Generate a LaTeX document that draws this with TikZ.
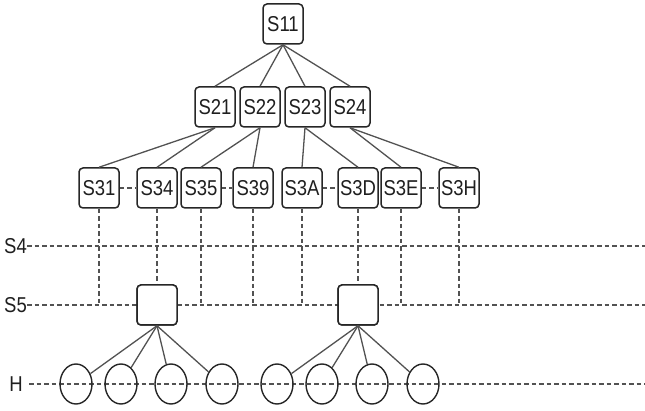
\documentclass[tikz,border=0pt]{standalone}
\usepackage{fontspec}
\usetikzlibrary{shapes.geometric}
\setmainfont{Liberation Sans}[FakeStretch=0.86]
\begin{document}
\begin{tikzpicture}[x=1pt,y=-1pt,
  txt/.style={font=\fontsize{21.5}{23}\selectfont, text=black!88},
  box/.style={txt, draw=black!85, line width=1.5pt, rounded corners=4pt, minimum width=40pt, minimum height=40pt, fill=white, inner sep=0pt},
  leaf/.style={draw=black!85, line width=1.4pt, ellipse, minimum width=32pt, minimum height=40pt, inner sep=0pt},
  edge/.style={draw=black!68, line width=1.3pt},
  dline/.style={draw=black!68, line width=1.2pt, dash pattern=on 4.5pt off 3pt},
  lab/.style={txt, inner sep=0pt, anchor=east}]
\useasboundingbox (0,0) rectangle (645,411);
% levels labels
\node[lab] (L4) at (27,246) {S4};
\node[lab] (L5) at (27,305) {S5};
\node[lab] (LH) at (23,384) {H};
\coordinate (E4) at (645,246);
\coordinate (E5) at (645,305);
\coordinate (EH) at (645,384);
\coordinate (HS) at (29,384);
\draw[dline] (L4.east) -- (E4);
\draw[dline] (L5.east) -- (E5);
\draw[dline] (HS) -- (EH);
% tree nodes
\node[box] (S11) at (283,24) {S11};
\node[box] (S21) at (215,107) {S21};
\node[box] (S22) at (260,107) {S22};
\node[box] (S23) at (305,107) {S23};
\node[box] (S24) at (350,107) {S24};
\node[box] (S31) at (99,188) {S31};
\node[box] (S34) at (157,188) {S34};
\node[box] (S35) at (201,188) {S35};
\node[box] (S39) at (253,188) {S39};
\node[box] (S3A) at (302,188) {S3A};
\node[box] (S3D) at (358,188) {S3D};
\node[box] (S3E) at (401,188) {S3E};
\node[box] (S3H) at (459,188) {S3H};
\node[box] (B1) at (157,305) {};
\node[box] (B2) at (358,305) {};
% tree edges
\foreach \c in {S21,S22,S23,S24} \draw[edge] (S11.south) -- (\c.north);
\draw[edge] (S21.south) -- (S31.north);
\draw[edge] (S21.south) -- (S34.north);
\draw[edge] (S22.south) -- (S35.north);
\draw[edge] (S22.south) -- (S39.north);
\draw[edge] (S23.south) -- (S3A.north);
\draw[edge] (S23.south) -- (S3D.north);
\draw[edge] (S24.south) -- (S3E.north);
\draw[edge] (S24.south) -- (S3H.north);
% sibling dashes
\draw[dline] (S31.east) -- (S34.west);
\draw[dline] (S35.east) -- (S39.west);
\draw[dline] (S3A.east) -- (S3D.west);
\draw[dline] (S3E.east) -- (S3H.west);
% vertical dashes
\foreach \n in {S31,S35,S39,S3A,S3E,S3H} \draw[dline] (\n.south) -- (\n.south |- E5);
\draw[dline] (S34.south) -- (B1.north);
\draw[dline] (S3D.south) -- (B2.north);
% redraw boxes on top
\node[box] at (B1) {};
\node[box] at (B2) {};
% leaves
\node[leaf] (H1) at (76,384) {};
\node[leaf] (H2) at (121,384) {};
\node[leaf] (H3) at (171,384) {};
\node[leaf] (H4) at (222,384) {};
\node[leaf] (H5) at (277,384) {};
\node[leaf] (H6) at (322,384) {};
\node[leaf] (H7) at (372,384) {};
\node[leaf] (H8) at (423,384) {};
\foreach \h in {H1,H2,H3,H4} \draw[edge] (B1.south) -- (\h);
\foreach \h in {H5,H6,H7,H8} \draw[edge] (B2.south) -- (\h);
\end{tikzpicture}
\end{document}
